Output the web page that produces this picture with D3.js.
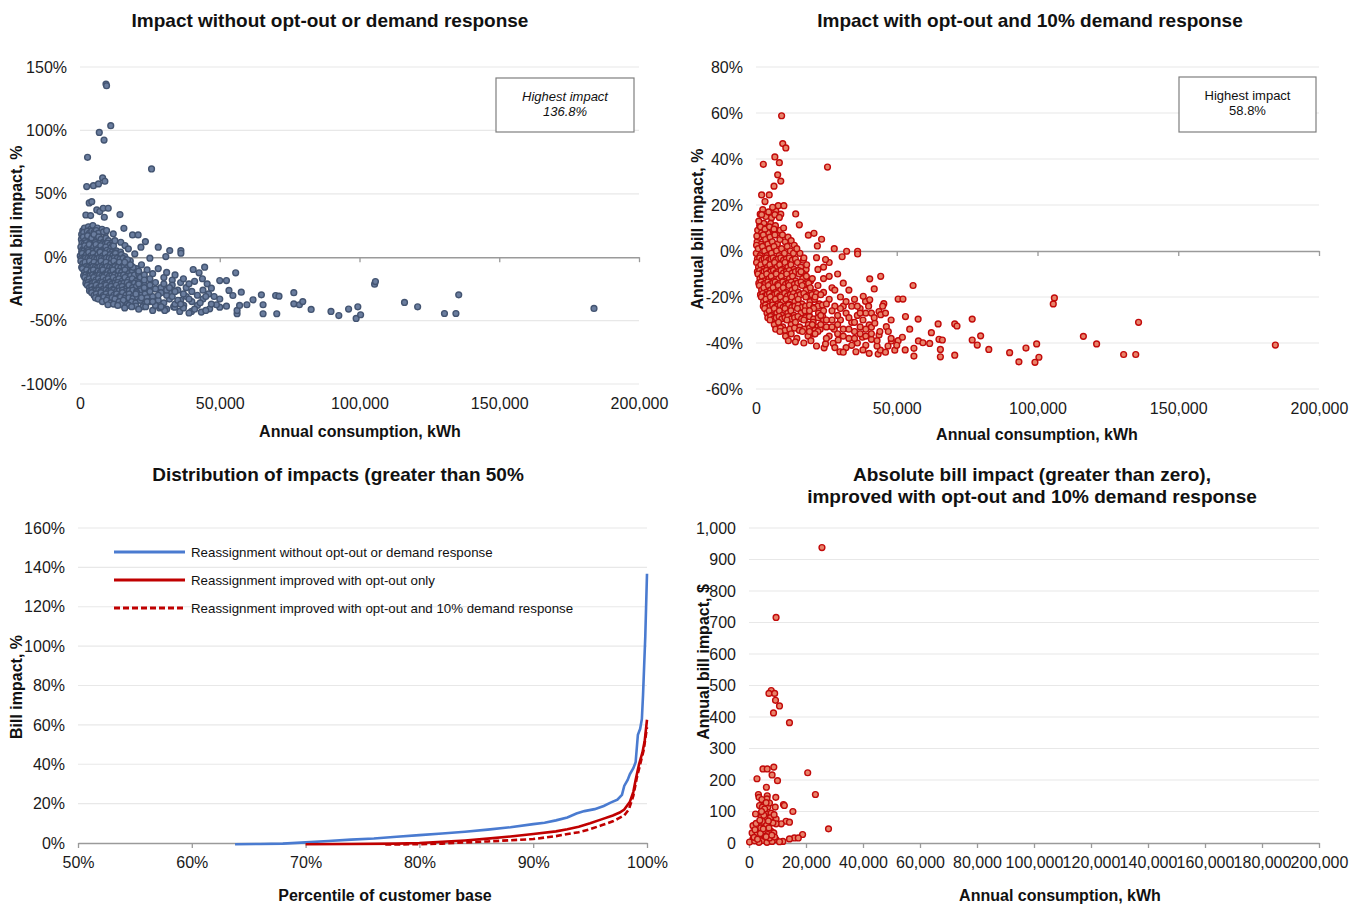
<!DOCTYPE html>
<html><head><meta charset="utf-8">
<script src="https://cdn.jsdelivr.net/npm/d3@7"></script>
<style>body{margin:0;background:#fff;} svg{display:block;font-family:"Liberation Sans",Arial,sans-serif;}</style>
</head><body>
<svg id="c" width="1361" height="905"></svg>
<script>
// ---------- DATA ----------
// Top-left: [thousand kWh, % bill impact] without opt-out or demand response
const tlOutliers = [[9.3,136.5],[9.5,135.2],[11.0,103.7],[6.9,98.4],[8.6,92.4],[2.7,78.8],[25.6,69.6],[2.4,55.7],[4.8,56.4],[6.6,57.8],[8.1,62.5],[8.9,59.9],[3.3,42.8],[4.2,43.8],[6.0,37.3],[7.1,36],[8.3,38.6],[10.1,38.6],[8.7,31.5],[2.1,33.3],[3.8,32.8],[14.3,33.6],[15.7,22.8],[18.8,17.6],[20.8,17.6],[23.4,12.3],[28.0,7.9],[32.1,5.2],[36.1,5.2],[36.1,3.1],[30.7,0.5],[25.0,-0.8],[9.5,21],[11.9,18.4],[12.5,13],[14.6,11.8],[16.1,9.2],[17.3,6.6],[21.8,7.9],[19.6,2.6]];
const tlMid = [[40.5,-9.7],[44.6,-7.9],[42.6,-12.3],[43.8,-17],[45.5,-21],[47.0,-24.4],[50.0,-18.4],[52.4,-18.4],[55.7,-12.3],[53.3,-26.2],[57.7,-27.6],[54.7,-30.2],[64.9,-29.7],[61.9,-33.6],[65.5,-37.5],[65.5,-44.6],[56.2,-44.6],[56.2,-42],[59.7,-37.5],[57.1,-38],[52.4,-38.6],[50.0,-39.4],[48.8,-37.5],[46.4,-40.7],[43.4,-43.3],[39.9,-42.8],[35.7,-42.8],[30.3,-42],[37.1,-38],[33.9,-39.4],[70.0,-30.2],[71.2,-30.7],[70.4,-44.6],[76.5,-28],[76.5,-36.8],[78.5,-37.5],[79.7,-35],[82.7,-41.2],[89.8,-42.8],[92.6,-46],
[22,-6],[24,-10],[26,-13],[28,-9],[30,-16],[31,-12],[33,-18],[34,-14],[36,-20],[37,-17],[38,-24],[39,-21],[40,-27],[41,-19],[42,-30],[35,-26],[32,-28],[29,-24],[27,-20],[25,-17],[23,-14],[21,-11],[26,-31],[28,-34],[30,-36],[32,-33],[34,-37],[36,-34],[38,-31],[40,-35],[42,-38],[44,-33],[46,-29],[44,-26],[27,-38],[24,-35],[22,-32],[20,-29],[33,-22],[31,-30],[37,-40],[39,-44],[45,-42],[48,-31],[50,-33],[47,-37],[41,-41],[29,-39],[25,-27],[23,-24],[21,-21],[19,-8],[17,-2],[18,-6],[16,-4],
[23,-18],[25,-22],[27,-25],[29,-28],[31,-26],[33,-31],[35,-34],[37,-29],[39,-33],[26,-35],[28,-30],[30,-21],[32,-24],[34,-27],[36,-37],[43,-36],[45,-31]];
const tlFar = [[96.1,-40.9],[98.8,-48.3],[99.4,-39.1],[100.4,-45.4],[105.4,-21.3],[105.7,-19.2],[116.1,-35.7],[120.8,-39.1],[130.4,-44.4],[134.5,-44.4],[135.5,-29.7],[183.9,-40.4]];
const tlCloud = [
[1.0,21],[1.6,23],[2.3,19],[3.0,24],[3.8,22],[4.6,25],[5.4,21],[6.2,23],[7.1,20],[7.9,22],[0.6,18],[9.0,19],
[1.3,19.5],[2.6,20.5],[3.4,19],[4.2,20.5],[5.0,19.5],[5.8,21],[6.6,19],[8.4,20],
[0.5,14],[1.2,16],[1.9,13],[2.7,17],[3.4,12],[4.2,15],[5.0,18],[5.8,13],[6.7,16],[7.5,14],[8.4,12],[9.3,15],[10.2,13],[11.0,11],
[0.7,11],[1.5,10.5],[2.3,11.5],[3.1,10],[3.9,11],[4.7,10.5],[5.5,11.5],[6.3,10],[7.2,11],[8.0,10.5],[8.9,10],[9.8,11],[10.7,9.5],[11.6,9],
[0.3,8],[1.0,6],[1.7,9],[2.5,7],[3.3,10],[4.1,6],[4.9,8],[5.7,10],[6.6,7],[7.4,9],[8.3,6],[9.2,8],[10.1,5],[11.0,7],[12.0,9],[13.0,5],
[0.6,4.5],[1.4,5],[2.2,4],[3.0,5.5],[3.8,4.5],[4.6,5],[5.4,4],[6.2,5.5],[7.1,4.5],[7.9,5],[8.8,4],[9.7,5.5],[10.6,4.5],[11.5,4],[12.5,3.5],[13.5,3],[14.5,4],
[0.1,1],[0.8,3],[1.5,0],[2.3,2],[3.1,4],[3.9,1],[4.7,3],[5.5,0],[6.4,2],[7.2,4],[8.1,1],[9.0,3],[9.9,0],[10.8,2],[11.7,1],[12.7,3],[13.7,0],[14.8,2],[16.0,0.5],
[0.5,-1],[1.2,-1.5],[2.0,-0.5],[2.8,-1],[3.6,-1.5],[4.4,-0.5],[5.2,-1],[6.0,-1.5],[6.9,-0.5],[7.7,-1],[8.6,-1.5],[9.5,-0.5],[10.4,-1],[11.3,-1.5],[12.3,-0.5],[13.3,-1],[14.3,-1.5],[15.4,-1],[16.6,-2],
[0.3,-3],[1.0,-5],[1.8,-4],[2.6,-7],[3.4,-3],[4.2,-6],[5.0,-4],[5.8,-7],[6.7,-5],[7.5,-3],[8.4,-6],[9.3,-4],[10.2,-7],[11.1,-5],[12.1,-3],[13.1,-6],[14.1,-4],[15.3,-7],[16.6,-5],[18.0,-3],
[0.6,-8],[1.4,-8.5],[2.2,-7.5],[3.0,-8],[3.8,-8.5],[4.6,-7.5],[5.4,-8],[6.2,-8.5],[7.1,-7.5],[7.9,-8],[8.8,-8.5],[9.7,-7.5],[10.6,-8],[11.5,-8.5],[12.5,-7.5],[13.5,-8],[14.6,-8.5],[15.8,-7.5],[17.0,-8],[18.4,-7],
[0.9,-9],[1.6,-12],[2.4,-10],[3.2,-13],[4.0,-11],[4.8,-10],[5.6,-13],[6.5,-11],[7.3,-12],[8.2,-10],[9.1,-13],[10.0,-11],[10.9,-12],[11.8,-10],[12.8,-13],[13.8,-11],[14.9,-12],[16.1,-10],[17.4,-13],[18.8,-11],[20.2,-9],
[1.3,-14.5],[2.1,-14],[2.9,-15],[3.7,-14.5],[4.5,-14],[5.3,-15],[6.1,-14.5],[7.0,-14],[7.8,-15],[8.7,-14.5],[9.6,-14],[10.5,-15],[11.4,-14.5],[12.4,-14],[13.4,-15],[14.5,-14.5],[15.6,-14],[16.8,-15],[18.1,-14.5],[19.5,-14],[21,-13],
[1.7,-16],[2.5,-18],[3.3,-17],[4.1,-19],[4.9,-16],[5.7,-18],[6.6,-17],[7.4,-19],[8.3,-16],[9.2,-18],[10.1,-17],[11.0,-19],[11.9,-16],[12.9,-18],[13.9,-17],[15.0,-19],[16.1,-16],[17.4,-18],[18.7,-17],[20.1,-19],[21.6,-16],
[2.1,-20.5],[2.9,-20],[3.7,-21],[4.5,-20.5],[5.3,-20],[6.2,-21],[7.0,-20.5],[7.9,-20],[8.8,-21],[9.7,-20.5],[10.6,-20],[11.5,-21],[12.5,-20.5],[13.5,-20],[14.6,-21],[15.7,-20.5],[16.9,-20],[18.2,-21],[19.5,-20.5],[20.9,-20],[22.4,-21],
[2.6,-22],[3.4,-24],[4.2,-23],[5.0,-25],[5.8,-22],[6.7,-24],[7.5,-23],[8.4,-25],[9.3,-22],[10.2,-24],[11.1,-23],[12.0,-25],[13.0,-22],[14.0,-24],[15.1,-23],[16.3,-25],[17.5,-22],[18.8,-24],[20.2,-23],[21.6,-25],[23.1,-22],
[3.4,-26.5],[4.2,-26],[5.0,-27],[5.8,-26.5],[6.7,-26],[7.5,-27],[8.4,-26.5],[9.3,-26],[10.2,-27],[11.1,-26.5],[12.1,-26],[13.1,-27],[14.1,-26.5],[15.2,-26],[16.4,-27],[17.6,-26.5],[18.9,-26],[20.3,-27],[21.8,-26.5],[23.3,-26],[24.9,-27],
[4.2,-28],[5.0,-30],[5.8,-29],[6.7,-31],[7.5,-28],[8.4,-30],[9.3,-29],[10.2,-31],[11.1,-28],[12.1,-30],[13.1,-29],[14.1,-31],[15.2,-28],[16.4,-30],[17.6,-29],[18.9,-31],[20.3,-28],[21.8,-30],[23.3,-29],
[5.5,-32],[7.0,-32.5],[8.5,-31.5],[10.0,-32.5],[11.5,-32],[13.0,-32.5],[14.5,-31.5],[16.0,-32.5],[17.5,-32],[19.0,-32.5],[20.6,-31.5],[22.2,-32.5],[24,-32],[26,-33],
[6.5,-33],[8.0,-35],[9.5,-34],[11.0,-36],[12.5,-33],[14.0,-35],[15.5,-34],[17.0,-37],[18.5,-35],[20.0,-36],[21.6,-34],[23.2,-37],[25.0,-35],
[10,-37.5],[12,-37],[14.5,-37.5],[17.5,-38],[20,-38.5],[22.5,-39],
[13.5,-38],[16.0,-40],[18.5,-39],[21.0,-41],[23.5,-39],[26.0,-42],[28.5,-40],[31.0,-41],[33.5,-39]];

// Top-right: [thousand kWh, % bill impact] with opt-out and 10% demand response
const trOutliers = [[9.1,58.8],[9.5,46.7],[10.6,44.8],[6.7,40.9],[8.3,38.4],[2.6,37.7],[25.4,36.5],[7.7,33.1],[8.8,30.4],[6.4,28.2],[2.0,24.4],[4.7,24.4],[3.2,21.5],[7.9,19.7],[9.9,19.7],[5.9,19],[2.0,15.8],[6.7,15.8],[8.3,14.6],[14.1,16.1],[15.4,11.4],[18.6,6.9],[20.6,7.7],[23.3,5.1],[21.8,2.2],[27.8,1.0],[32.2,-0.1],[30.6,-2.5],[36.1,-0.1],[36.1,-1.3],[24.7,-3.7],[21.5,-2.9]];
const trMid = [[40.4,-12.1],[44.3,-11],[42.0,-16.5],[45.4,-22.9],[55.8,-15],[50.5,-20.9],[52.2,-20.9],[53.1,-28.5],[57.6,-29.6],[54.6,-34],[46.3,-32.9],[40.2,-32.1],[41.0,-33.1],[38.9,-21.9],[40.4,-21.2],[38.1,-19.7],[43.7,-26.3],[44.3,-27.7],[42.2,-31.4],[43.7,-36.5],[41.0,-38.4],[37.8,-37.5],[35.5,-43.8],[40.2,-44.5],[43.4,-44.8],[44.2,-43.1],[43.0,-41.3],[46.9,-41.3],[48.1,-39.1],[50.5,-39],[49.3,-43.1],[52.0,-37.5],[56.1,-42.3],[56.1,-45.7],[57.7,-39.1],[59.3,-39.9],[62.3,-35.5],[61.7,-40.2],[64.7,-31.7],[65.0,-38.4],[65.5,-42.8],[65.5,-46],[66.2,-38.7],[70.6,-31.7],[71.4,-32.6],[70.6,-45.3],[76.8,-29.6],[76.8,-38.7],[78.6,-40.9],[79.8,-36.9],[82.7,-42.8],[90.1,-44.2],[93.4,-48.2],[29.8,-43.8],[21.5,-41.3],[24.2,-42.1],[24.7,-40.4],[27.4,-40.1],[29.2,-38.7],[27.8,-34],
[22,-8],[24,-12],[26,-5],[27,-16],[29,-10],[30,-20],[31,-14],[33,-17],[34,-24],[35,-21],[36,-28],[37,-25],[38,-30],[39,-27],[34,-31],[32,-27],[30,-30],[28,-24],[26,-21],[24,-18],[22,-15],[20,-12],[23,-28],[25,-33],[27,-30],[29,-36],[31,-34],[33,-38],[35,-35],[37,-33],[36,-40],[32,-42],[26,-37],[22,-35],[20,-32],[19,-26],[18,-6],[17,-3],[16,-9],[45,-24],[48,-30],[47,-35],[41,-27],[39,-41],
[21,-20],[23,-19],[25,-23],[27,-26],[29,-28],[31,-24],[33,-29],[35,-31],[37,-27],[39,-34],[41,-36],[43,-39],[25,-30],[27,-33],[29,-32],[31,-37],[33,-34],[35,-38],[37,-36],[39,-37],[34,-41],[38,-43],[42,-29],[46,-27],[44,-35],[48,-38],[32,-22],[28,-17],[26,-11],[24,-7],[30,-25],[36,-24],[40,-24],[23,-32],[21,-36],[19,-35],[25,-38],[28,-42],[31,-44],[46,-44],[50,-41],[53,-43]];
const trFar = [[95.9,-42.2],[99.1,-48.4],[99.7,-40.4],[100.5,-46.2],[105.6,-23],[106.0,-20.4],[116.3,-37.1],[121.0,-40.4],[130.6,-45],[134.9,-45],[135.9,-31],[184.5,-40.9]];
const trCloud = [
[1.5,16],[2.4,18],[3.5,15],[4.5,17],[5.5,14.5],[7.0,17.5],[8.8,16],
[0.6,9],[1.3,11],[2.0,8],[2.8,12],[3.6,10],[4.4,8],[5.2,12],[6.0,9],[6.9,11],[7.8,8],[1.0,13],
[1.6,10.5],[3.2,9.5],[4.8,10.5],[6.4,9.5],[8.6,9],[9.8,10],
[0.4,4],[1.1,6],[1.8,3],[2.6,7],[3.4,5],[4.2,3],[5.0,6],[5.8,4],[6.7,7],[7.6,3],[8.5,5],[9.4,7],[10.4,4],
[0.2,2.5],[0.3,6.5],[11.4,6],[12.5,4.5],[13.6,2.5],[15.6,-1],[16.8,-4],[17.8,-8],
[0.1,-1],[0.8,1],[1.5,-2],[2.3,2],[3.1,0],[3.9,-2],[4.7,1],[5.5,-1],[6.4,2],[7.3,0],[8.2,-2],[9.1,1],[10.1,-1],[11.1,2],[12.2,0],[13.3,-1],[14.5,1],
[0.5,-3.5],[1.3,-3],[2.1,-4],[2.9,-3.5],[3.7,-3],[4.5,-4],[5.3,-3.5],[6.1,-3],[7.0,-4],[7.9,-3.5],[8.8,-3],[9.8,-4],[10.8,-3.5],[11.8,-3],[12.9,-4],[14.0,-3.5],
[0.2,-5],[0.9,-7],[1.7,-6],[2.5,-8],[3.3,-5],[4.1,-7],[4.9,-6],[5.7,-8],[6.6,-5],[7.5,-7],[8.4,-6],[9.3,-8],[10.3,-5],[11.3,-7],[12.4,-6],[13.5,-8],[14.7,-5],[15.9,-7],
[0.5,-9],[1.3,-8.5],[2.1,-9.5],[2.9,-9],[3.7,-8.5],[4.5,-9.5],[5.3,-9],[6.2,-8.5],[7.1,-9.5],[8.0,-9],[8.9,-8.5],[9.8,-9.5],[10.8,-9],[11.8,-8.5],[12.9,-9.5],[14.0,-9],[15.2,-8.5],[16.4,-9.5],
[0.7,-10],[1.4,-12],[2.2,-11],[3.0,-13],[3.8,-10],[4.6,-12],[5.4,-11],[6.3,-13],[7.2,-10],[8.1,-12],[9.0,-11],[9.9,-13],[10.9,-10],[11.9,-12],[13.0,-11],[14.1,-13],[15.3,-10],[16.6,-12],[17.9,-11],[19.4,-13],
[1.0,-14],[1.8,-13.5],[2.6,-14.5],[3.4,-14],[4.2,-13.5],[5.0,-14.5],[5.9,-14],[6.8,-13.5],[7.7,-14.5],[8.6,-14],[9.5,-13.5],[10.5,-14.5],[11.5,-14],[12.5,-13.5],[13.6,-14.5],[14.8,-14],[16.0,-13.5],[17.3,-14.5],[18.7,-14],
[1.2,-15],[2.0,-17],[2.8,-16],[3.6,-18],[4.4,-15],[5.2,-17],[6.1,-16],[7.0,-18],[7.9,-15],[8.8,-17],[9.7,-16],[10.7,-18],[11.7,-15],[12.8,-17],[13.9,-16],[15.1,-18],[16.4,-15],[17.8,-17],[19.3,-16],[20.9,-18],
[1.6,-19],[2.4,-18.5],[3.2,-19.5],[4.0,-19],[4.8,-18.5],[5.7,-19.5],[6.6,-19],[7.5,-18.5],[8.4,-19.5],[9.3,-19],[10.2,-18.5],[11.2,-19.5],[12.2,-19],[13.3,-18.5],[14.5,-19.5],[15.7,-19],[17.0,-18.5],[18.4,-19.5],[19.9,-19],[21.5,-18.5],
[1.9,-20],[2.7,-22],[3.5,-21],[4.3,-23],[5.1,-20],[6.0,-22],[6.9,-21],[7.8,-23],[8.7,-20],[9.6,-22],[10.6,-21],[11.6,-23],[12.7,-20],[13.8,-22],[15.0,-21],[16.3,-23],[17.7,-20],[19.2,-22],[20.8,-21],[22.5,-23],
[2.6,-24],[3.4,-23.5],[4.2,-24.5],[5.0,-24],[5.9,-23.5],[6.8,-24.5],[7.7,-24],[8.6,-23.5],[9.6,-24.5],[10.6,-24],[11.6,-23.5],[12.7,-24.5],[13.8,-24],[15.0,-23.5],[16.3,-24.5],[17.6,-24],[19.0,-23.5],[20.5,-24.5],[22.0,-24],[23.6,-23.5],
[3.1,-25],[3.9,-27],[4.7,-26],[5.6,-28],[6.5,-25],[7.4,-27],[8.3,-26],[9.3,-28],[10.3,-25],[11.3,-27],[12.4,-26],[13.5,-28],[14.7,-25],[16.0,-27],[17.4,-26],[18.9,-28],[20.5,-25],[22.2,-27],[24.0,-26],
[4.2,-29],[5.2,-28.5],[6.2,-29.5],[7.2,-29],[8.2,-28.5],[9.2,-29.5],[10.3,-29],[11.4,-28.5],[12.5,-29.5],[13.7,-29],[14.9,-28.5],[16.2,-29.5],[17.6,-29],[19.0,-28.5],[20.5,-29.5],[22.1,-29],[23.7,-28.5],
[5.0,-30],[6.5,-32],[8.0,-31],[9.5,-33],[11.0,-30],[12.5,-32],[14.0,-31],[15.5,-33],[17.0,-30],[18.6,-32],[20.3,-31],[22.0,-33],[24.0,-30],
[7,-34],[8.7,-33.5],[10.3,-34.5],[12,-34],[13.7,-33.5],[15.4,-34.5],[17.2,-34],[19,-33.5],[20.9,-34.5],[22.8,-34],
[8.5,-35],[10.5,-37],[12.5,-36],[14.5,-38],[16.5,-35],[18.5,-37],[20.5,-36],
[11.5,-39],[14,-39.5],[17,-40],[19.5,-39]];

// Bottom-left: distribution curves [percentile %, bill impact %]
const blueCurve = [[63.8,-0.6],[66,-0.5],[68,-0.3],[70,0.3],[72,1],[74,1.7],[76,2.3],[78,3.2],[80,4],[82,4.8],[84,5.7],[86,6.8],[88,8],[90,9.6],[91,10.3],[92,11.5],[93,13],[93.8,15],[94.5,16.2],[95.4,17.2],[96.2,18.8],[96.8,20.5],[97.4,22],[97.8,24.5],[98.0,29],[98.3,32],[98.5,35],[98.8,38],[99.0,41],[99.1,48],[99.2,55],[99.4,58],[99.55,63],[99.65,75],[99.75,90],[99.85,105],[99.93,122],[100,136.8]];
const redCurve = [[70,-0.6],[74,-0.5],[78,-0.3],[80,0],[82,0.6],[84,1.3],[86,2.2],[88,3.3],[90,4.6],[92,5.9],[93,7],[94,8.3],[95,10],[96,12],[97,14],[97.6,15.5],[98,17],[98.5,21],[98.8,26],[99,32],[99.3,40],[99.6,46],[99.8,52],[100,62.6]];
const redDashCurve = [[77,-0.8],[80,-0.6],[82,-0.3],[84,0.3],[86,0.8],[88,1.4],[90,2],[92,3.5],[94,5.5],[95,7],[96,9],[97,11],[97.5,12.5],[98,14],[98.4,17],[98.8,24],[99.1,33],[99.4,40],[99.7,47],[100,58.8]];
const legendLabels = ["Reassignment without opt-out or demand response","Reassignment improved with opt-out only","Reassignment improved with opt-out and 10% demand response"];

// Bottom-right: [thousand kWh, $ annual bill impact]
const brPoints = [[25.6,938],[9.5,716],[7.8,484],[7.0,475],[9.0,475],[9.3,453],[10.7,435],[8.6,413],[14.2,382],[8.7,241],[4.9,235],[6.4,235],[8.1,216],[2.8,204],[10.0,198],[20.6,223],[23.3,154],[6.1,177],[3.3,154],[3.5,145],[6.4,150],[9.4,145],[6.3,140],[4.9,129],[3.7,119],[4.7,114],[6.6,114],[9.2,114],[12.1,122],[12.4,119],[15.4,100],[2.3,92],[5.8,95],[7.8,95],[4.3,82],[9.5,76],[13.0,69],[14.2,66],[11.3,61],[9.5,61],[1.4,55],[4.3,55],[6.6,58],[27.9,45],[1.1,32],[3.1,37],[5.5,37],[7.8,37],[8.7,32],[3.7,23],[6.6,27],[18.8,27],[15.9,16],[17.3,16],[14.2,13],[1.4,13],[4.9,8],[9.5,11],[11.9,5],[0.2,3],[3.5,2],[6.3,2],[8.1,5],[10.7,4],[2.0,7],[5.6,21],[7.2,16],[9.0,19],[2.8,27],[4.1,48],[6.1,58],[7.5,80],[5.5,108],[7.2,127],[4.5,138],[8.4,64],[2.1,42],[4.7,69],[1.8,18],[3.0,12],[4.0,30],[5.0,45],[6.0,20],[7.0,48],[8.0,25],[2.5,62],[3.8,72],[5.2,88],[6.8,70],[8.8,90],[4.4,100],[6.0,128]];

// Tick values
const tlYTicks = [-100,-50,0,50,100,150];
const trYTicks = [-60,-40,-20,0,20,40,60,80];
const kwhTicks = [0,50,100,150,200];
const blYTicks = [0,20,40,60,80,100,120,140,160];
const blXTicks = [50,60,70,80,90,100];
const brYTicks = [0,100,200,300,400,500,600,700,800,900,1000];
const brXTicks = [0,20,40,60,80,100,120,140,160,180,200];

// ---------- DRAWING ----------
const svg = d3.select("#c");
const FONT = '"Liberation Sans", Arial, sans-serif';
const fmtK = d => d3.format(",")(d*1000);
const fmtPct = d => d + "%";

function panel(cfg){
  const g = svg.append("g");
  const x = d3.scaleLinear().domain(cfg.xDomain).range(cfg.xRange);
  const y = d3.scaleLinear().domain(cfg.yDomain).range(cfg.yRange);
  g.append("g").selectAll("line").data(cfg.yTicks.filter(t => t !== cfg.axisAt)).join("line")
    .attr("x1", cfg.xRange[0]).attr("x2", cfg.xRange[1])
    .attr("y1", d => y(d)).attr("y2", d => y(d))
    .attr("stroke", "#e8e8e8").attr("stroke-width", 1.2);
  g.append("g").attr("transform", `translate(${cfg.xRange[0]},0)`)
    .call(d3.axisLeft(y).tickValues(cfg.yTicks).tickSize(0).tickPadding(13).tickFormat(cfg.yFmt))
    .call(s => { s.select(".domain").remove(); s.selectAll("text").attr("font-size", 16).attr("font-family", FONT).attr("fill", "#1a1a1a"); });
  g.append("g").attr("transform", `translate(0,${cfg.yRange[0]})`)
    .call(d3.axisBottom(x).tickValues(cfg.xTicks).tickSize(0).tickPadding(14).tickFormat(cfg.xFmt))
    .call(s => { s.select(".domain").remove(); s.selectAll("text").attr("font-size", 16).attr("font-family", FONT).attr("fill", "#1a1a1a"); });
  g.append("g").attr("transform", `translate(0,${y(cfg.axisAt)})`)
    .call(d3.axisBottom(x).tickValues(cfg.xTicks).tickSize(5).tickSizeOuter(0).tickFormat(""))
    .call(s => { s.select(".domain").attr("stroke", "#9a9a9a").attr("stroke-width", 1.5);
                 s.selectAll(".tick line").attr("stroke", "#9a9a9a").attr("stroke-width", 1.3); });
  cfg.title.forEach((t, i) => {
    g.append("text").attr("x", cfg.titleX).attr("y", cfg.titleY + i*22).attr("text-anchor", "middle")
      .attr("font-size", 19).attr("font-weight", "bold").attr("fill", "#111").attr("font-family", FONT).text(t);
  });
  g.append("text").attr("x", cfg.xTitleX).attr("y", cfg.xTitleY).attr("text-anchor", "middle")
    .attr("font-size", 16).attr("font-weight", "bold").attr("fill", "#111").attr("font-family", FONT).text(cfg.xTitle);
  g.append("text").attr("transform", `translate(${cfg.yTitleX},${cfg.yTitleY}) rotate(-90)`).attr("text-anchor", "middle")
    .attr("font-size", 16).attr("font-weight", "bold").attr("fill", "#111").attr("font-family", FONT).text(cfg.yTitle);
  return {g, x, y};
}

function scatter(p, data, fill, stroke){
  p.g.append("g").selectAll("circle").data(data).join("circle")
    .attr("cx", d => p.x(d[0])).attr("cy", d => p.y(d[1])).attr("r", 2.9)
    .attr("fill", fill).attr("stroke", stroke).attr("stroke-width", 1.4);
}

function note(p, x0, y0, x1, y1, lines, italic){
  p.g.append("rect").attr("x", x0).attr("y", y0).attr("width", x1-x0).attr("height", y1-y0)
    .attr("fill", "#fff").attr("stroke", "#7f7f7f").attr("stroke-width", 1.2);
  lines.forEach((t, i) => p.g.append("text").attr("x", (x0+x1)/2).attr("y", y0 + 23 + i*15)
    .attr("text-anchor", "middle").attr("font-size", 13).attr("font-style", italic ? "italic" : "normal")
    .attr("fill", "#111").attr("font-family", FONT).text(t));
}

// Top-left
const pTL = panel({xDomain:[0,200], xRange:[80,639], yDomain:[-100,150], yRange:[384,67], axisAt:0,
  yTicks: tlYTicks, xTicks: kwhTicks, yFmt: fmtPct, xFmt: fmtK,
  title:["Impact without opt-out or demand response"], titleX:330, titleY:27,
  xTitle:"Annual consumption, kWh", xTitleX:360, xTitleY:437, yTitle:"Annual bill impact, %", yTitleX:22, yTitleY:226});
scatter(pTL, tlCloud.concat(tlMid, tlFar, tlOutliers), "#6a7d9e", "#435471");
note(pTL, 496, 78, 634, 132, ["Highest impact", "136.8%"], true);

// Top-right
const pTR = panel({xDomain:[0,200], xRange:[756,1319], yDomain:[-60,80], yRange:[389,67], axisAt:0,
  yTicks: trYTicks, xTicks: kwhTicks, yFmt: fmtPct, xFmt: fmtK,
  title:["Impact with opt-out and 10% demand response"], titleX:1030, titleY:27,
  xTitle:"Annual consumption, kWh", xTitleX:1037, xTitleY:440, yTitle:"Annual bill impact, %", yTitleX:703, yTitleY:229});
scatter(pTR, trCloud.concat(trMid, trFar, trOutliers), "#e8836a", "#c20a0a");
note(pTR, 1179, 77, 1316, 132, ["Highest impact", "58.8%"], false);

// Bottom-left
const pBL = panel({xDomain:[50,100], xRange:[78,647], yDomain:[0,160], yRange:[843,528], axisAt:0,
  yTicks: blYTicks, xTicks: blXTicks, yFmt: fmtPct, xFmt: fmtPct,
  title:["Distribution of impacts (greater than 50%"], titleX:338, titleY:481,
  xTitle:"Percentile of customer base", xTitleX:385, xTitleY:901, yTitle:"Bill impact, %", yTitleX:22, yTitleY:687});
const line = d3.line().x(d => pBL.x(d[0])).y(d => pBL.y(d[1]));
const series = [
  {data: blueCurve, color: "#4a7bd0", dash: null},
  {data: redCurve, color: "#c00000", dash: null},
  {data: redDashCurve, color: "#c00000", dash: "6,3"}
];
series.forEach(s => pBL.g.append("path").attr("d", line(s.data)).attr("fill", "none")
  .attr("stroke", s.color).attr("stroke-width", 2.6).attr("stroke-dasharray", s.dash));
legendLabels.forEach((t, i) => {
  const yy = 552 + i*28;
  pBL.g.append("line").attr("x1", 114).attr("x2", 185).attr("y1", yy).attr("y2", yy)
    .attr("stroke", series[i].color).attr("stroke-width", 3.2).attr("stroke-dasharray", series[i].dash ? "6,3" : null);
  pBL.g.append("text").attr("x", 191).attr("y", yy + 4.5).attr("font-size", 13.3).attr("fill", "#111")
    .attr("font-family", FONT).text(t);
});

// Bottom-right
const pBR = panel({xDomain:[0,200], xRange:[749,1319], yDomain:[0,1000], yRange:[843,528], axisAt:0,
  yTicks: brYTicks, xTicks: brXTicks, yFmt: d3.format(","), xFmt: fmtK,
  title:["Absolute bill impact (greater than zero),", "improved with opt-out and 10% demand response"], titleX:1032, titleY:481,
  xTitle:"Annual consumption, kWh", xTitleX:1060, xTitleY:901, yTitle:"Annual bill impact, $", yTitleX:709, yTitleY:662});
scatter(pBR, brPoints, "#e8836a", "#c20a0a");
</script>
</body></html>
